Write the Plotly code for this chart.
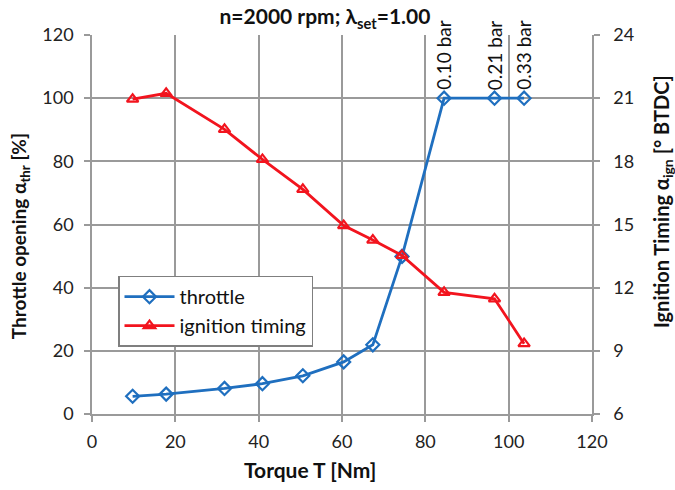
import plotly.graph_objects as go

torque = [9.75, 17.8, 31.8, 40.9, 50.6, 60.4, 67.4, 74.4, 84.5, 96.6, 103.7]
throttle = [5.6, 6.3, 8.1, 9.6, 12.1, 16.5, 21.9, 49.9, 100, 100, 100]
ignition = [20.95, 21.23, 19.52, 18.09, 16.67, 14.95, 14.26, 13.53, 11.78, 11.47, 9.34]
pressure_labels = ["0.10 bar", "0.21 bar", "0.33 bar"]
pressure_x = torque[-3:]
pressure_y = throttle[-3:]

FONT = "Lato"
GRID = "#9a9a9a"
BLUE = "#1f6fbf"
RED = "#f2141e"
TXT = "#111111"

fig = go.Figure()
fig.add_trace(go.Scatter(
    x=torque, y=throttle, name="throttle", mode="lines+markers",
    line=dict(color=BLUE, width=2.8),
    marker=dict(symbol="diamond-open", size=10, color=BLUE, line=dict(width=2.2, color=BLUE)),
))
fig.add_trace(go.Scatter(
    x=torque, y=ignition, name="ignition timing", mode="lines+markers", yaxis="y2",
    line=dict(color=RED, width=2.8),
    marker=dict(symbol="triangle-up-open", size=10, color=RED, line=dict(width=2.2, color=RED)),
))

annotations = []
for px, py, t in zip(pressure_x, pressure_y, pressure_labels):
    annotations.append(dict(x=px, y=py, xref="x", yref="y", text=t, showarrow=False,
                            textangle=-90, xanchor="center", yanchor="bottom", yshift=6,
                            font=dict(family=FONT, size=19, color=TXT)))

# axis titles placed as annotations (paper coords relative to plot area)
annotations += [
    dict(x=0.4366, y=-0.147, xref="paper", yref="paper", text="<b>Torque T [Nm]</b>",
         showarrow=False, xanchor="center", yanchor="middle",
         font=dict(family=FONT, size=21, color=TXT)),
    dict(x=-0.1434, y=0.47, xref="paper", yref="paper",
         text="<b>Throttle opening α<sub>thr</sub> [%]</b>", textangle=-90,
         showarrow=False, xanchor="center", yanchor="middle",
         font=dict(family=FONT, size=19, color=TXT)),
    dict(x=1.1406, y=0.56, xref="paper", yref="paper",
         text="<b>Ignition Timing α<sub>ign</sub> [° BTDC]</b>", textangle=-90,
         showarrow=False, xanchor="center", yanchor="middle",
         font=dict(family=FONT, size=20, color=TXT)),
]

fig.update_layout(
    width=675, height=490,
    margin=dict(l=92, r=83, t=35, b=76),
    paper_bgcolor="white", plot_bgcolor="white",
    font=dict(family=FONT, size=18, color="#222"),
    title=dict(text="<b>n=2000 rpm; λ<sub>set</sub>=1.00</b>", x=325 / 675, xanchor="center",
               y=1 - 17 / 490, yanchor="middle", font=dict(family=FONT, size=21, color=TXT)),
    xaxis=dict(range=[0, 120], dtick=20, showgrid=True, gridcolor=GRID, gridwidth=1.5,
               showline=True, linecolor=GRID, linewidth=1.5,
               ticks="outside", ticklen=6, tickcolor=GRID, tickwidth=1.5,
               ticklabelstandoff=5,
               zeroline=False, tickfont=dict(size=18, color="#222")),
    yaxis=dict(range=[0, 120], dtick=20, showgrid=True, gridcolor=GRID, gridwidth=1.5,
               showline=True, linecolor=GRID, linewidth=1.5,
               ticks="outside", ticklen=6, tickcolor=GRID, tickwidth=1.5,
               ticklabelstandoff=7,
               zeroline=False, tickfont=dict(size=18, color="#222")),
    yaxis2=dict(range=[6, 24], dtick=3, overlaying="y", side="right", showgrid=False,
                showline=True, linecolor=GRID, linewidth=1.5,
                ticks="outside", ticklen=6, tickcolor=GRID, tickwidth=1.5,
                ticklabelstandoff=10,
                zeroline=False, tickfont=dict(size=18, color="#222")),
    legend=dict(x=0.052, y=0.365, xanchor="left", yanchor="top",
                bgcolor="white", bordercolor="#7f7f7f", borderwidth=1.5,
                itemwidth=50,
                font=dict(family=FONT, size=20, color=TXT), tracegroupgap=0),
    showlegend=True,
    annotations=annotations,
)

fig.write_html("out.html")
